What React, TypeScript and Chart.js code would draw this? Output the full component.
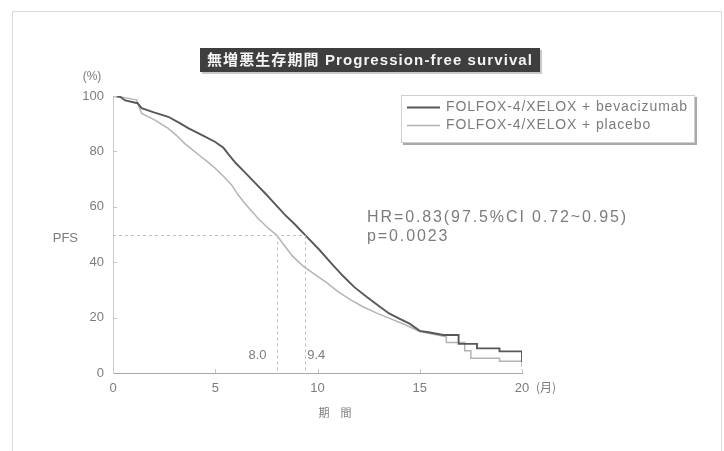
import React, { useEffect, useRef } from "react";
import Chart from "chart.js/auto";

// ---- data ----
const bevMonths = [0, 0.35, 0.6, 1.2, 1.4, 2.0, 2.7, 3.2, 3.7, 4.5, 5.0, 5.4, 5.65, 6.0, 6.45, 6.9, 7.45, 7.85, 8.4, 8.9, 9.4, 10.1, 10.7, 11.25, 11.8, 12.4, 13.0, 13.5, 14.0, 14.5, 15.0, 15.5, 16.15, 16.9, 16.9, 17.8, 17.8, 18.9, 18.9, 20.0, 20.0];
const bevValues = [100, 99.7, 98.4, 97.4, 95.6, 94.1, 92.5, 90.5, 88.3, 85.3, 83.4, 81.3, 78.9, 75.8, 72.4, 69.0, 64.8, 61.6, 57.2, 53.6, 49.8, 44.4, 39.4, 35.0, 31.0, 27.5, 24.2, 21.5, 19.6, 17.8, 15.2, 14.6, 13.7, 13.7, 10.5, 10.5, 8.9, 8.9, 7.8, 7.8, 4.0];
const plaMonths = [0, 0.5, 1.15, 1.4, 2.05, 2.7, 3.1, 3.5, 4.2, 4.6, 5.0, 5.4, 5.8, 6.1, 6.45, 7.1, 7.5, 8.0, 8.35, 8.8, 9.3, 9.9, 10.45, 11.0, 11.6, 12.2, 12.9, 13.5, 14.2, 15.0, 15.6, 16.3, 16.3, 17.2, 17.2, 17.5, 17.5, 18.9, 18.9, 20.0, 20.0];
const plaValues = [100, 99.5, 98.6, 93.7, 91.3, 88.3, 85.8, 82.9, 78.7, 76.4, 73.9, 71.0, 67.9, 64.5, 61.2, 55.8, 52.9, 49.8, 46.3, 42.0, 38.6, 35.4, 32.6, 29.4, 26.5, 24.0, 21.6, 19.8, 17.7, 15.0, 14.1, 13.1, 11.0, 11.0, 8.0, 8.0, 5.3, 5.3, 4.2, 4.2, 2.2];
const xTicks = [0, 5, 10, 15, 20];
const yTicks = [0, 20, 40, 60, 80, 100];
const seriesLabels = ["FOLFOX-4/XELOX + bevacizumab", "FOLFOX-4/XELOX + placebo"];
const medianMonths = [8.0, 9.4];
const medianLabels = ["8.0", "9.4"];
const medianLevel = 50;
const titleText = "無増悪生存期間 Progression-free survival";
const statsLines = ["HR=0.83(97.5%CI 0.72~0.95)", "p=0.0023"];
const yUnit = "(%)";
const xUnit = "(月)";
const yTitle = "PFS";
const xTitle = "期　間";

const FONT = "'Liberation Sans', Arial, 'Noto Sans CJK JP', sans-serif";
const CJK = "'Noto Sans CJK JP', sans-serif";
const COLORS = ["#585858", "#b4b4b4"];
const TEXT = "#7c7c7c";

function spacingFor(ctx: CanvasRenderingContext2D, text: string, width: number) {
  (ctx as any).letterSpacing = "0px";
  const w = ctx.measureText(text).width;
  const n = Array.from(text).length;
  return (width - w) / n;
}

const overlay = {
  id: "overlay",
  afterDraw(chart: any) {
    const ctx: CanvasRenderingContext2D = chart.ctx;
    const xs = chart.scales.x;
    const ys = chart.scales.y;
    ctx.save();

    // frame
    ctx.strokeStyle = "#dcdcdc";
    ctx.lineWidth = 1;
    ctx.strokeRect(12.5, 11.5, 709, 460);

    // inner ticks
    ctx.strokeStyle = "#c4c4c4";
    ctx.beginPath();
    yTicks.forEach((v) => {
      if (v === 0) return;
      const py = Math.round(ys.getPixelForValue(v)) + 0.5;
      ctx.moveTo(xs.left, py);
      ctx.lineTo(xs.left + 4, py);
    });
    xTicks.forEach((v) => {
      if (v === 0) return;
      const px = Math.round(xs.getPixelForValue(v)) + 0.5;
      ctx.moveTo(px, ys.bottom);
      ctx.lineTo(px, ys.bottom - 4);
    });
    ctx.stroke();

    // median dashed lines
    ctx.strokeStyle = "#c0c0c0";
    ctx.setLineDash([3, 3]);
    const y50 = Math.round(ys.getPixelForValue(medianLevel)) + 0.5;
    const xMax = xs.getPixelForValue(Math.max(...medianMonths));
    ctx.beginPath();
    ctx.moveTo(xs.left, y50);
    ctx.lineTo(xMax, y50);
    medianMonths.forEach((m) => {
      const px = Math.round(xs.getPixelForValue(m)) + 0.5;
      ctx.moveTo(px, y50);
      ctx.lineTo(px, ys.bottom);
    });
    ctx.stroke();
    ctx.setLineDash([]);

    ctx.fillStyle = TEXT;
    ctx.font = `13px ${FONT}`;
    ctx.textBaseline = "middle";
    ctx.textAlign = "right";
    ctx.fillText(medianLabels[0], xs.getPixelForValue(medianMonths[0]) - 10, 355);
    ctx.textAlign = "left";
    ctx.fillText(medianLabels[1], xs.getPixelForValue(medianMonths[1]) + 2, 355);

    // axis unit labels
    ctx.textAlign = "center";
    ctx.font = `12px ${FONT}`;
    ctx.fillText(yUnit, 92, 77);
    ctx.font = `13px ${FONT}`;
    ctx.textAlign = "right";
    ctx.fillText(yTitle, 78, 238);
    ctx.textAlign = "left";
    ctx.font = `12px ${CJK}`;
    ctx.fillText(xUnit, 536, 387);
    ctx.textAlign = "center";
    ctx.font = `11px ${CJK}`;
    ctx.fillText(xTitle, 335, 413);

    // title box
    ctx.fillStyle = "#c8c8c8";
    ctx.fillRect(202, 50, 340, 24);
    ctx.fillStyle = "#3e3e3e";
    ctx.fillRect(200, 48, 340, 24);
    ctx.fillStyle = "#f4f4f4";
    ctx.font = `bold 15px ${FONT}`;
    ctx.textAlign = "left";
    const tls = spacingFor(ctx, titleText, 326);
    (ctx as any).letterSpacing = `${tls}px`;
    ctx.fillText(titleText, 207, 60.5);
    (ctx as any).letterSpacing = "0px";

    // legend box
    ctx.fillStyle = "#ffffff";
    ctx.fillRect(401, 95, 294, 48);
    ctx.strokeStyle = "#a8a8a8";
    ctx.lineWidth = 2;
    ctx.beginPath();
    ctx.moveTo(403, 144);
    ctx.lineTo(696, 144);
    ctx.lineTo(696, 97);
    ctx.stroke();
    ctx.strokeStyle = "#cfcfcf";
    ctx.lineWidth = 1;
    ctx.strokeRect(401.5, 95.5, 293, 47);
    ctx.font = `14px ${FONT}`;
    const lls = spacingFor(ctx, seriesLabels[0], 242);
    const rows = [107, 125];
    seriesLabels.forEach((lab, i) => {
      ctx.strokeStyle = COLORS[i];
      ctx.lineWidth = i === 0 ? 1.8 : 1.4;
      ctx.beginPath();
      ctx.moveTo(407, rows[i] + 0.5);
      ctx.lineTo(440, rows[i] + 0.5);
      ctx.stroke();
      ctx.fillStyle = TEXT;
      (ctx as any).letterSpacing = `${lls}px`;
      ctx.fillText(lab, 446, rows[i] + 0.5);
    });
    (ctx as any).letterSpacing = "0px";

    // stats
    ctx.font = `16px ${FONT}`;
    const sls = spacingFor(ctx, statsLines[0], 261);
    (ctx as any).letterSpacing = `${sls}px`;
    ctx.fillStyle = TEXT;
    ctx.fillText(statsLines[0], 367, 218);
    ctx.fillText(statsLines[1], 367, 237);
    (ctx as any).letterSpacing = "0px";

    ctx.restore();
  },
};

export default function App() {
  const ref = useRef<HTMLCanvasElement | null>(null);
  useEffect(() => {
    if (!ref.current) return;
    const toPts = (xs: number[], ys: number[]) => xs.map((x, i) => ({ x, y: ys[i] }));
    const chart = new Chart(ref.current, {
      type: "line",
      data: {
        datasets: [
          {
            label: seriesLabels[0],
            data: toPts(bevMonths, bevValues),
            borderColor: COLORS[0],
            borderWidth: 1.9,
            pointRadius: 0,
            tension: 0,
          },
          {
            label: seriesLabels[1],
            data: toPts(plaMonths, plaValues),
            borderColor: COLORS[1],
            borderWidth: 1.5,
            pointRadius: 0,
            tension: 0,
          },
        ],
      },
      options: {
        animation: false,
        responsive: false,
        maintainAspectRatio: false,
        layout: { padding: { left: 0, right: 202, top: 96, bottom: 0 } },
        plugins: { legend: { display: false }, tooltip: { enabled: false }, title: { display: false } },
        scales: {
          x: {
            type: "linear",
            min: 0,
            max: 20,
            afterFit: (s: any) => { s.height = 78; },
            afterBuildTicks: (s: any) => { s.ticks = xTicks.map((v) => ({ value: v })); },
            grid: { display: true, drawOnChartArea: false, drawTicks: false },
            border: { display: true, color: "#a8a8a8", width: 1 },
            ticks: { padding: 8, color: TEXT, font: { size: 13, family: FONT } },
          },
          y: {
            type: "linear",
            min: 0,
            max: 100,
            afterFit: (s: any) => { s.width = 113; },
            afterBuildTicks: (s: any) => { s.ticks = yTicks.map((v) => ({ value: v })); },
            grid: { display: true, drawOnChartArea: false, drawTicks: false },
            border: { display: true, color: "#d4c8c8", width: 1 },
            ticks: { padding: 9, color: TEXT, font: { size: 13, family: FONT } },
          },
        },
      },
      plugins: [overlay],
    });
    return () => chart.destroy();
  }, []);
  return (
    <div style={{ position: "absolute", left: 0, top: 0, width: 724, height: 451, background: "#fff" }}>
      <canvas ref={ref} width={724} height={451} style={{ display: "block", width: 724, height: 451 }} />
    </div>
  );
}
